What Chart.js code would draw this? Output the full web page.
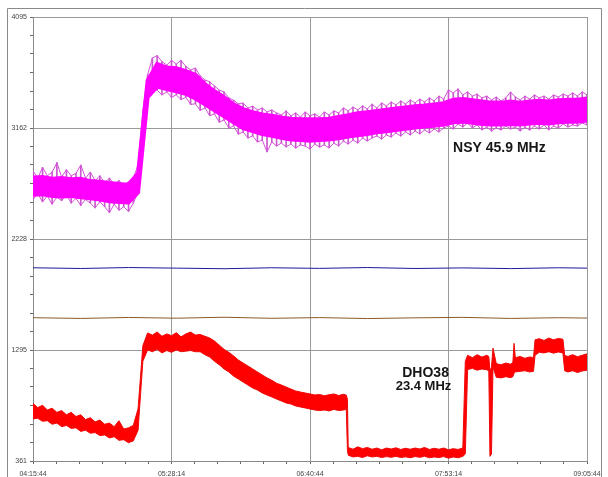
<!DOCTYPE html>
<html><head><meta charset="utf-8">
<script src="https://cdn.jsdelivr.net/npm/chart.js@4.4.0/dist/chart.umd.min.js"></script>
<style>html,body{margin:0;padding:0;background:#fff;}#wrap{width:608px;height:477px;position:relative}</style>
</head><body><div id="wrap"><canvas id="c" width="608" height="477"></canvas></div>
<script>
// ---- tick labels ----
const yTickLabels = ['361', '1295', '2228', '3162', '4095'];
const xTickLabels = ['04:15:44', '05:28:14', '06:40:44', '07:53:14', '09:05:44'];
const yMin = 361, yMax = 4095;      // signal units
const xMin = 0, xMax = 290;         // minutes since 04:15:44

// ---- NSY 45.9 MHz (magenta): spike extents (max / min) ----
const nsyT = [0,2.5,5,7.5,10,12.5,15,17.5,20,22.5,25,27.5,30,32.5,35,37.5,40,42.5,45,47.5,50,52.5,
  55,57.5,60,62.5,65,67.5,70,72.5,75,77.5,80,82.5,85,87.5,90,92.5,95,97.5,100,102.5,105,107.5,110,112.5,115,117.5,120,122.5,
  125,127.5,130,132.5,135,137.5,140,142.5,145,147.5,150,152.5,155,157.5,160,162.5,165,167.5,170,172.5,175,177.5,180,182.5,
  185,187.5,190,192.5,195,197.5,200,202.5,205,207.5,210,212.5,215,217.5,220,222.5,225,227.5,230,232.5,235,237.5,240,242.5,
  245,247.5,250,252.5,255,257.5,260,262.5,265,267.5,270,272.5,275,277.5,280,282.5,285,287.5,290];
const nsyHi = [2800,2740,2830,2760,2790,2870,2750,2810,2760,2780,2850,2740,2790,2720,2760,2700,2740,2690,2720,2680,2710,2740,
  2850,3310,3610,3750,3770,3720,3690,3730,3700,3730,3680,3650,3665,3600,3565,3550,3515,3480,3465,3415,3395,3365,3372,3330,3345,3313,3330,3296,
  3313,3288,3271,3305,3263,3288,3254,3296,3263,3280,3254,3296,3271,3305,3288,3330,3305,3338,3313,3347,3321,3363,3330,3372,
  3347,3380,3355,3389,3363,3397,3372,3405,3380,3414,3389,3430,3405,3481,3456,3490,3439,3465,3430,3447,3414,3430,3397,3422,
  3389,3414,3464,3422,3397,3430,3405,3439,3414,3430,3405,3439,3422,3447,3430,3456,3430,3465,3439];
const nsyLo = [2560,2610,2540,2590,2520,2580,2550,2600,2530,2570,2510,2560,2530,2490,2540,2500,2450,2520,2470,2500,2460,2530,
  2620,3100,3400,3500,3480,3440,3465,3420,3440,3400,3420,3360,3365,3310,3330,3265,3280,3210,3230,3160,3180,3110,3128,3077,3095,3044,3061,2960,
  3044,3010,3035,3002,3027,2993,3019,3010,2985,3027,3002,3019,2993,3035,3010,3052,3027,3061,3035,3078,3052,3078,3094,3069,
  3103,3086,3120,3094,3128,3103,3136,3111,3145,3120,3153,3128,3162,3178,3153,3195,3170,3204,3162,3187,3145,3170,3136,3162,
  3145,3178,3153,3170,3136,3170,3145,3178,3153,3187,3145,3178,3162,3195,3170,3187,3178,3204,3187];
// ---- NSY core band ----
const nsyCoreT = [0,5,10,15,20,25,30,35,40,45,50,55,60,65,70,75,80,85,90,95,100,105,110,115,120,125,130,135,140,145,
  150,155,160,165,170,175,180,185,190,195,200,205,210,215,220,225,230,235,240,245,250,255,260,265,270,275,280,285,290];
const nsyCoreHi = [2745,2750,2735,2740,2730,2735,2715,2710,2700,2690,2685,2780,3560,3700,3670,3665,3640,3610,3530,3470,
  3420,3360,3320,3295,3275,3265,3250,3240,3235,3235,3235,3240,3255,3270,3285,3295,3305,3315,3325,3335,
  3345,3350,3360,3370,3400,3405,3395,3385,3375,3375,3385,3375,3385,3390,3385,3395,3400,3400,3410];
const nsyCoreLo = [2600,2605,2590,2585,2590,2580,2570,2560,2545,2540,2535,2620,3420,3510,3490,3470,3450,3410,3360,3310,
  3260,3210,3160,3135,3110,3095,3080,3065,3060,3055,3060,3065,3075,3090,3100,3110,3125,3135,3145,3155,
  3165,3175,3180,3190,3210,3215,3205,3195,3190,3190,3195,3190,3200,3205,3200,3210,3215,3215,3225];

// ---- DHO38 23.4 MHz (red) ----
const dhoT = [0,2.5,5,7.5,10,12.5,15,17.5,20,22.5,25,27.5,30,32.5,35,37.5,40,42.5,45,47.5,50,52.5,
  55,57.5,60,62.5,65,67.5,70,72.5,75,77.5,80,82.5,85,87.5,90,92.5,95,97.5,100,102.5,105,107.5,110,112.5,115,117.5,120,122.5,
  125,127.5,130,132.5,135,137.5,140,142.5,145,147.5,150,152.5,155,157.5,160,162.5,164,164.6,
  165,167.5,170,172.5,175,177.5,180,182.5,185,187.5,190,192.5,195,197.5,200,202.5,205,207.5,210,212.5,215,217.5,220,222.5,225,
  226.3,227.5,230,232.5,235,237.5,238.6,239.2,240,240.8,242.5,245,247.5,250,251.2,251.8,252.5,255,257.5,260,262,262.8,
  265,267.5,270,272.5,275,277.4,278.3,280,282.5,285,287.5,290];
const dhoHi = [845,810,830,790,805,770,785,750,770,735,750,710,725,690,705,670,680,650,700,630,640,660,
  800,1330,1438,1420,1446,1410,1430,1415,1440,1405,1430,1445,1420,1425,1410,1395,1370,1335,1300,1275,1245,1210,1185,1160,1135,1110,1085,1060,
  1040,1015,1000,983,966,950,941,933,925,916,920,910,918,925,912,922,915,880,
  475,460,480,465,475,460,470,455,470,462,472,458,468,460,470,462,475,458,468,460,470,455,465,458,470,
  1200,1250,1230,1255,1235,1250,1240,1120,1150,1310,1180,1170,1185,1175,1190,1350,1230,1240,1225,1236,1230,1380,
  1390,1375,1395,1380,1392,1385,1250,1240,1255,1238,1250,1262];
const dhoLo = [715,720,695,700,670,680,650,660,635,640,610,620,595,600,575,580,555,565,535,540,515,530,
  620,1200,1295,1280,1300,1270,1290,1275,1295,1280,1285,1290,1280,1280,1255,1235,1200,1170,1135,1110,1075,1050,1025,1000,975,958,933,916,
  900,882,866,849,840,824,815,807,798,790,785,790,782,795,785,790,795,450,
  410,395,400,390,405,395,400,390,398,392,400,390,396,388,398,392,400,388,395,390,398,385,395,388,400,
  420,1130,1140,1125,1135,1128,1120,400,420,1150,1065,1060,1070,1062,1070,1100,1110,1115,1120,1110,1115,1250,
  1275,1270,1280,1268,1278,1270,1120,1110,1120,1105,1118,1125];

// ---- reference traces (blue, brown) ----
const refT = [0,25,50,75,100,125,150,175,200,225,250,275,290];
const blueV = [1986,1980,1988,1983,1978,1986,1981,1988,1980,1985,1979,1986,1983];
const brownV = [1566,1560,1568,1562,1570,1561,1567,1559,1565,1569,1560,1566,1563];

const pts = (T, V) => T.map((t, i) => ({x: t, y: V[i]}));
const ranges = (T, Lo, Hi) => T.map((t, i) => ({x: t, y: [Lo[i], Hi[i]]}));

const yTickVals = [], xTickVals = [];
for (let k = 0; k <= 24; k++) {
  yTickVals.push(yMin + k * (yMax - yMin) / 24);
  xTickVals.push(xMin + k * (xMax - xMin) / 24);
}

const FONT = '"Liberation Sans", Arial, sans-serif';

const framePlugin = {
  id: 'frame',
  beforeDraw(chart) {
    const ctx = chart.ctx;
    ctx.save();
    ctx.fillStyle = '#fff';
    ctx.fillRect(0, 0, chart.width, chart.height);
    ctx.strokeStyle = '#8a8a8a';
    ctx.lineWidth = 1;
    ctx.beginPath();
    ctx.moveTo(7.5, 477); ctx.lineTo(7.5, 8.5); ctx.lineTo(601.5, 8.5); ctx.lineTo(601.5, 477);
    ctx.stroke();
    ctx.restore();
  },
  afterDraw(chart) {
    const ctx = chart.ctx, xs = chart.scales.x, ys = chart.scales.y;
    ctx.save();
    ctx.fillStyle = '#161616';
    ctx.textBaseline = 'alphabetic';
    ctx.font = 'bold 14px ' + FONT;
    ctx.textAlign = 'left';
    ctx.fillText('NSY 45.9 MHz', xs.getPixelForValue(219.9), ys.getPixelForValue(2960));
    ctx.textAlign = 'center';
    ctx.fillText('DHO38', xs.getPixelForValue(205.5), ys.getPixelForValue(1067));
    ctx.font = 'bold 13px ' + FONT;
    ctx.fillText('23.4 MHz', xs.getPixelForValue(204.4), ys.getPixelForValue(958));
    ctx.restore();
  }
};

const line = (T, V, col, w, order) => ({type: 'line', order, data: pts(T, V), borderColor: col, borderWidth: w, pointRadius: 0, fill: false, tension: 0});

new Chart(document.getElementById('c'), {
  type: 'line',
  data: {
    datasets: [
      // magenta core band (hi then lo filled to hi)
      line(nsyCoreT, nsyCoreHi, '#ff00ff', 4, 1),
      Object.assign(line(nsyCoreT, nsyCoreLo, '#ff00ff', 4, 1), {fill: '-1', backgroundColor: '#ff00ff'}),
      // red band
      line(dhoT, dhoHi, '#f00808', 1, 1),
      Object.assign(line(dhoT, dhoLo, '#f00808', 1, 1), {fill: '-1', backgroundColor: '#ff0000'}),
      // flat reference traces
      line(refT, blueV, '#1c1c9c', 1, 0),
      line(refT, brownV, '#8b5a2b', 1, 0),
      // magenta noise spikes
      line(nsyT, nsyHi, '#d253d8', 1, 4),
      line(nsyT, nsyLo, '#d253d8', 1, 4),
      {type: 'bar', order: 5, data: ranges(nsyT, nsyLo, nsyHi), backgroundColor: '#cc55d0', barThickness: 1, borderWidth: 0, borderSkipped: false}
    ]
  },
  options: {
    responsive: false,
    animation: false,
    events: [],
    layout: {padding: {top: 17, right: 21, left: 0, bottom: 0}},
    plugins: {legend: {display: false}, tooltip: {enabled: false}},
    scales: {
      x: {
        type: 'linear', min: xMin, max: xMax, offset: false,
        afterBuildTicks: s => { s.ticks = xTickVals.map(v => ({value: v})); },
        afterFit: s => { s.height = 16; },
        ticks: {
          autoSkip: false, maxRotation: 0, minRotation: 0, padding: 6,
          font: {size: 7, family: FONT}, color: '#444',
          callback: (v, i) => (i % 6 === 0 ? xTickLabels[i / 6] : '')
        },
        grid: {
          offset: false,
          color: c => (c.index % 6 === 0 ? '#9a9a9a' : 'rgba(0,0,0,0)'),
          lineWidth: 1, tickLength: 3, tickColor: '#666', drawTicks: true
        },
        border: {display: true, color: '#8a8a8a'}
      },
      y: {
        type: 'linear', min: yMin, max: yMax,
        afterBuildTicks: s => { s.ticks = yTickVals.map(v => ({value: v})); },
        afterFit: s => { s.width = 33; },
        ticks: {
          autoSkip: false, padding: 3,
          font: {size: 7, family: FONT}, color: '#444',
          callback: (v, i) => (i % 6 === 0 ? yTickLabels[i / 6] : '')
        },
        grid: {
          color: c => (c.index % 6 === 0 ? '#9a9a9a' : 'rgba(0,0,0,0)'),
          lineWidth: 1, tickLength: 3, tickColor: '#666', drawTicks: true
        },
        border: {display: true, color: '#8a8a8a'}
      }
    }
  },
  plugins: [framePlugin]
});
</script>
</body></html>
